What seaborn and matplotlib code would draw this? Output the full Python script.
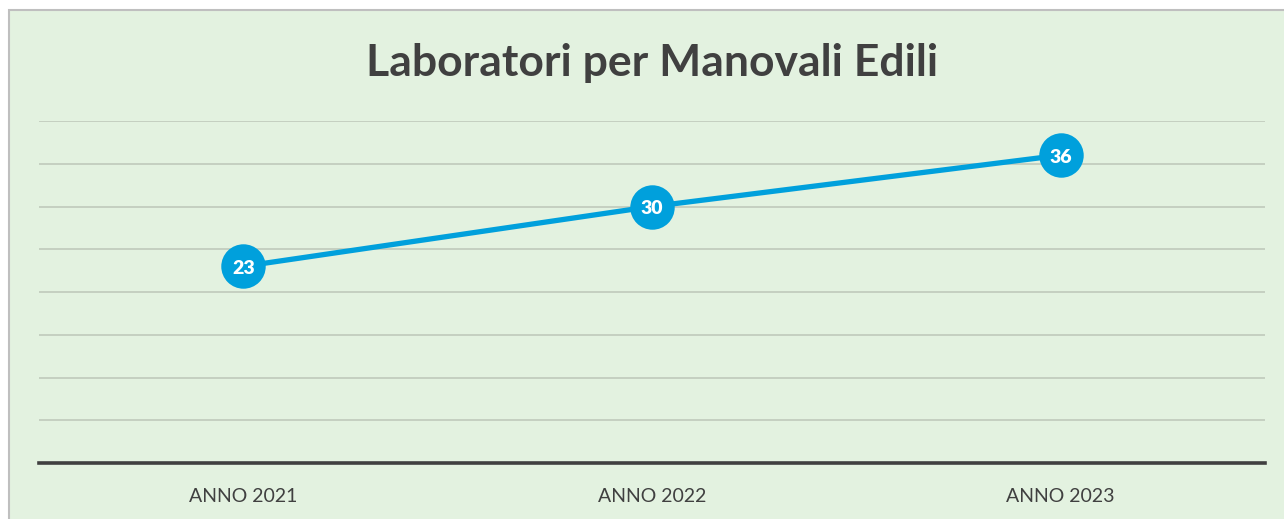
import matplotlib
matplotlib.use('Agg')
import matplotlib.pyplot as plt
import matplotlib.patches as mpatches
import seaborn as sns
import pandas as pd

anni = ['ANNO 2021', 'ANNO 2022', 'ANNO 2023']
laboratori = [23, 30, 36]

df = pd.DataFrame({'anno': anni, 'valore': laboratori})
df['pos'] = range(len(anni))

sns.set_style('white')
plt.rcParams['font.family'] = ['Lato', 'DejaVu Sans']

fig = plt.figure(figsize=(12.84, 5.19), dpi=100)
fig.patch.set_facecolor('white')
# riquadro verde del grafico
fig.patches.append(mpatches.Rectangle((9 / 1284, -0.01), 1.02, (519 - 10) / 519 + 0.01,
                                      transform=fig.transFigure, facecolor='#E3F2E0',
                                      edgecolor='#BFBFBF', linewidth=1.5, zorder=-5))

ax = fig.add_axes([39 / 1284, 56 / 519, (1265 - 39) / 1284, (463 - 121) / 519])
ax.set_facecolor('none')
ax.set_zorder(2)

sns.lineplot(data=df, x='pos', y='valore', ax=ax, color='#00A0DC', linewidth=3.8,
             marker='o', markersize=32, markeredgewidth=0, zorder=3)

# etichette dentro i cerchi
for x, y in zip(df['pos'], df['valore']):
    ax.annotate(str(y), (x, y), xytext=(0, -1.5), textcoords='offset points',
                ha='center', va='center', color='white',
                fontsize=14, fontweight='heavy', zorder=4)

ax.set_xlim(-0.5, len(anni) - 0.5)
ax.set_ylim(0, 40)
ax.set_yticks(range(5, 41, 5))
ax.yaxis.grid(True, color='#BFCABB', linewidth=1.2)
ax.set_yticklabels([])
ax.tick_params(axis='y', length=0)
ax.set_xticks(df['pos'])
ax.set_xticklabels(anni, fontsize=14, color='#404040')
ax.tick_params(axis='x', length=0, pad=18)
ax.set_xlabel('')
ax.set_ylabel('')
for s in ['top', 'right', 'left']:
    ax.spines[s].set_visible(False)
ax.spines['bottom'].set_color('#404040')
ax.spines['bottom'].set_linewidth(2.6)

fig.text(652 / 1284, 1 - 63 / 519, 'Laboratori per Manovali Edili', ha='center', va='center',
         fontsize=32, fontweight='bold', color='#404040')

fig.savefig('out.png', dpi=100)
